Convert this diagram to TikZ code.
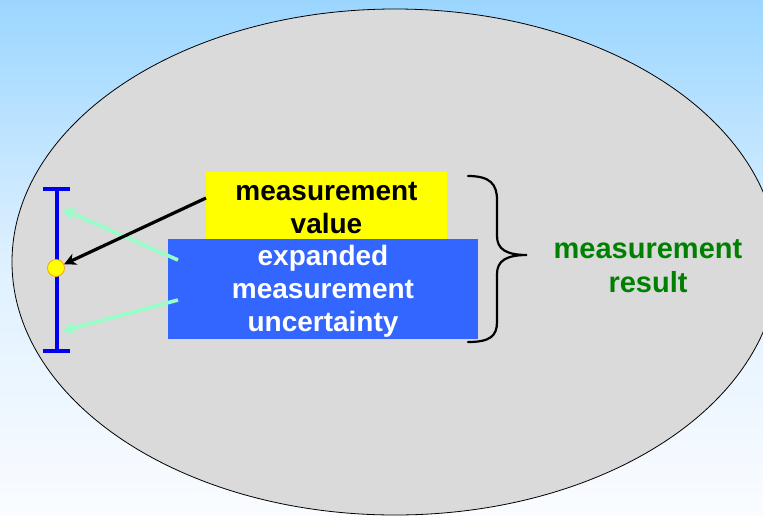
\documentclass[tikz,border=0pt]{standalone}
\usepackage{fontspec}
\setmainfont{Liberation Sans}
\usetikzlibrary{arrows.meta}
\definecolor{bgtop}{RGB}{155,214,255}
\definecolor{bgmid}{RGB}{222,240,255}
\definecolor{bgbot}{RGB}{250,252,255}
\definecolor{ellfill}{RGB}{218,218,218}
\definecolor{boxyellow}{RGB}{255,255,0}
\definecolor{boxblue}{RGB}{51,102,255}
\definecolor{barblue}{RGB}{0,0,240}
\definecolor{mint}{RGB}{150,255,200}
\definecolor{resgreen}{RGB}{0,128,0}
\definecolor{dotedge}{RGB}{240,170,0}
\begin{document}
\begin{tikzpicture}[x=1pt,y=-1pt,
  txt/.style={font=\bfseries\fontsize{28}{33}\selectfont, align=center},
  boxnode/.style={inner sep=0pt, outer sep=0pt},
  barline/.style={barblue, line width=3.2pt},
  minta/.style={mint, line width=3.6pt, -{Stealth[length=13pt,width=13pt]}},
  blacka/.style={black, line width=3.2pt, -{Stealth[length=12pt,width=12pt]}}]
\useasboundingbox (0,0) rectangle (763,515);
\shade[top color=bgtop, bottom color=bgbot, middle color=bgmid] (0,0) rectangle (763,515);
\draw[fill=ellfill, draw=black, line width=0.8pt] (395,262) ellipse [x radius=383, y radius=253];
% boxes
\node[boxnode, fill=boxblue, minimum width=310pt, minimum height=100pt] (mu) at (323,289) {};
\node[txt, text=white] (mut) at ([yshift=-2.5pt]mu.center) {expanded\\measurement\\uncertainty};
\node[boxnode, fill=boxyellow, minimum width=241pt, minimum height=67pt] (mv) at (326.5,205.5) {};
\node[txt, text=black] (mvt) at ([yshift=-2pt]mv.center) {measurement\\value};
% error bar
\coordinate (bt) at (57,189);
\coordinate (bb) at (57,351);
\coordinate (btl) at (43,189);
\coordinate (btr) at (70,189);
\coordinate (bbl) at (43,351);
\coordinate (bbr) at (70,351);
\draw[barline] (bt) -- (bb);
\draw[barline] (btl) -- (btr);
\draw[barline] (bbl) -- (bbr);
\node[circle, fill=boxyellow, draw=dotedge, line width=0.8pt, minimum size=17pt, inner sep=0pt] (dot) at (56,268) {};
% mint arrows
\coordinate (m1s) at (178,260);
\coordinate (m1e) at (62,209);
\coordinate (m2s) at (178,300);
\coordinate (m2e) at (62,331);
\draw[minta] (m1s) -- (m1e);
\draw[minta] (m2s) -- (m2e);
% black arrow
\coordinate (ks) at (206,198);
\draw[blacka] (ks) -- (dot);
% brace
\coordinate (br1) at (468,176);
\coordinate (br2) at (468,342);
\coordinate (brtip) at (527,255);
\draw[black, line width=2.2pt, line cap=round]
  (br1) .. controls (490,176) and (497,184) .. (497,200)
  -- (497,236) .. controls (497,249) and (506,255) .. (brtip)
  .. controls (506,255) and (497,261) .. (497,274)
  -- (497,322) .. controls (497,336) and (490,342) .. (br2);
\node[font=\bfseries\fontsize{29}{34}\selectfont, align=center, text=resgreen] (res) at (648,266) {measurement\\result};
\end{tikzpicture}
\end{document}
